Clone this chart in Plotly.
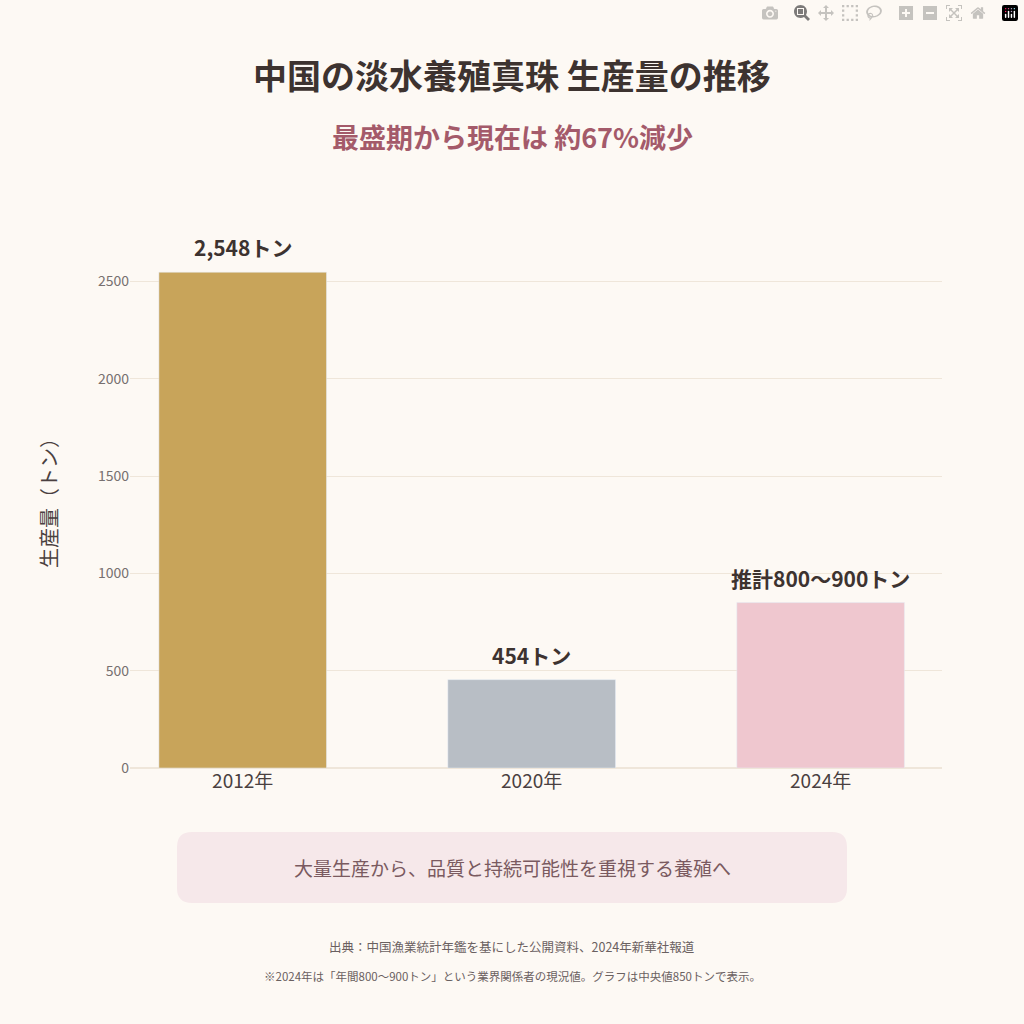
import plotly.graph_objects as go

years = ["2012年", "2020年", "2024年"]
values = [2548, 454, 850]
labels = ["2,548トン", "454トン", "推計800〜900トン"]
colors = ["#C8A45A", "#B8BEC5", "#EFC7CF"]
yticks = [0, 500, 1000, 1500, 2000, 2500]

F = "Noto Sans CJK JP"
fig = go.Figure(go.Bar(x=years, y=values, marker_color=colors, width=0.58))
for yr, v, lb in zip(years, values, labels):
    fig.add_annotation(x=yr, y=v, text=lb, showarrow=False, yanchor="bottom", yshift=8,
                       font=dict(family=F, size=21, color="#3D3330", weight="bold"))

W, H, L, R, T, B = 1024, 1024, 130, 82, 230, 256
pw, ph = W - L - R, H - T - B
def px(x): return (x - L) / pw
def py(y): return (H - B - y) / ph

fig.update_layout(
    width=W, height=H, margin=dict(l=L, r=R, t=T, b=B),
    paper_bgcolor="#FDF9F4", plot_bgcolor="#FDF9F4", showlegend=False,
    font=dict(family=F),
    xaxis=dict(range=[-0.39, 2.42], tickfont=dict(size=19, color="#4A4040"), showline=False),
    yaxis=dict(range=[0, 2765], tickvals=yticks, gridcolor="#EFE6DA",
               tickfont=dict(size=14, color="#777070"), zeroline=True, zerolinecolor="#EFE6DA"),
)
x0, x1, y0, y1 = 177, 847, 832, 903
r = 15
path = (f"M {px(x0+r)} {py(y0)} L {px(x1-r)} {py(y0)} Q {px(x1)} {py(y0)} {px(x1)} {py(y0+r)} "
        f"L {px(x1)} {py(y1-r)} Q {px(x1)} {py(y1)} {px(x1-r)} {py(y1)} L {px(x0+r)} {py(y1)} "
        f"Q {px(x0)} {py(y1)} {px(x0)} {py(y1-r)} L {px(x0)} {py(y0+r)} Q {px(x0)} {py(y0)} {px(x0+r)} {py(y0)} Z")
fig.add_shape(type="path", path=path, xref="paper", yref="paper", fillcolor="#F6E8EA", line_width=0, layer="below")

def ann(text, x, y, size, color, bold=False, angle=0):
    fig.add_annotation(text=text, x=px(x), y=py(y), xref="paper", yref="paper", showarrow=False,
                       xanchor="center", yanchor="middle", textangle=angle,
                       font=dict(family=F, size=size, color=color, weight="bold" if bold else "normal"))
ann("中国の淡水養殖真珠 生産量の推移", 512, 75, 34, "#3D3330", True)
ann("最盛期から現在は 約67%減少", 512, 137, 27, "#A45A6A", True)
ann("生産量（トン）", 48, 498, 20, "#4A4040", angle=-90)
ann("大量生産から、品質と持続可能性を重視する養殖へ", 512, 867, 19, "#7A5A60")
ann("出典：中国漁業統計年鑑を基にした公開資料、2024年新華社報道", 512, 946, 12.5, "#6A6060")
ann("※2024年は「年間800〜900トン」という業界関係者の現況値。グラフは中央値850トンで表示。", 512, 976, 11.5, "#6A6060")
fig.write_html("out.html", post_script="document.body.style.margin='0';")
